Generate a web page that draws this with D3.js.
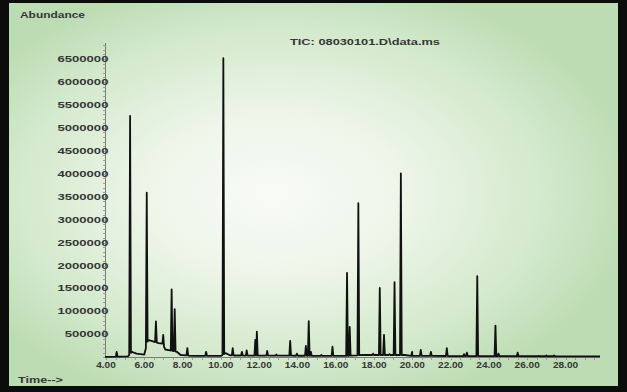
<!DOCTYPE html>
<html>
<head>
<meta charset="utf-8">
<script src="https://cdn.jsdelivr.net/npm/d3@7"></script>
<style>
  html, body { margin: 0; padding: 0; background: #fff; }
  svg { display: block; }
  text { font-family: "Liberation Sans", Arial, sans-serif; font-weight: bold; fill: #363636; }
</style>
</head>
<body>
<svg id="chart" width="627" height="392"></svg>
<script>
// Retention times (min) of the detected peaks and their apex abundances
const peakTimes = [4.56, 5.26, 6.13, 6.61, 6.99, 7.43, 7.59, 8.25, 9.23, 10.13,
  10.62, 11.10, 11.35, 11.80, 11.88, 12.42, 12.90, 13.62, 13.97, 14.44,
  14.59, 14.70, 15.25, 15.83, 16.59, 16.73, 17.18, 17.95, 18.30, 18.52,
  18.80, 19.07, 19.40, 19.99, 20.44, 20.97, 21.80, 22.70, 22.85, 23.39,
  24.34, 24.50, 25.50, 26.60, 27.00, 27.40, 28.20];
const peakHeights = [120000, 5260000, 3590000, 780000, 490000, 1480000, 1050000, 200000, 120000, 6520000,
  200000, 120000, 150000, 380000, 560000, 140000, 60000, 360000, 80000, 250000,
  790000, 120000, 50000, 230000, 1840000, 660000, 3360000, 80000, 1510000, 490000,
  70000, 1640000, 4010000, 120000, 160000, 120000, 200000, 70000, 100000, 1770000,
  690000, 80000, 100000, 30000, 40000, 40000, 20000];

// Underlying baseline of the trace (time, abundance)
const baseTimes  = [3.95, 5.15, 5.35, 5.60, 6.00, 6.20, 6.50, 6.75, 6.95, 7.10, 7.35, 7.70, 7.90, 8.50, 10.00, 10.25, 10.50, 16.50, 17.40, 19.60, 20.00, 29.80];
const baseLevels = [10000, 20000, 120000, 80000, 60000, 380000, 340000, 310000, 300000, 170000, 150000, 120000, 50000, 30000, 30000, 90000, 40000, 30000, 50000, 50000, 30000, 20000];

// Axis ticks
const yTicks = [500000, 1000000, 1500000, 2000000, 2500000, 3000000, 3500000, 4000000, 4500000, 5000000, 5500000, 6000000, 6500000];
const xTicks = [4, 6, 8, 10, 12, 14, 16, 18, 20, 22, 24, 26, 28];
const xTickLabels = ["4.00", "6.00", "8.00", "10.00", "12.00", "14.00", "16.00", "18.00", "20.00", "22.00", "24.00", "26.00", "28.00"];

const svg = d3.select("#chart");
const W = 627, H = 392;

// Panel background: black frame around a soft green radial wash
const defs = svg.append("defs");
const grad = defs.append("radialGradient").attr("id", "wash")
  .attr("cx", "0.45").attr("cy", "0.5").attr("r", "0.58").attr("fx", "0.43").attr("fy", "0.5");
grad.append("stop").attr("offset", "0").attr("stop-color", "#f8fbf5");
grad.append("stop").attr("offset", "0.35").attr("stop-color", "#eef6ea");
grad.append("stop").attr("offset", "0.75").attr("stop-color", "#d3e9cc");
grad.append("stop").attr("offset", "1").attr("stop-color", "#bcdcb3");

svg.append("rect").attr("x", 0).attr("y", 0).attr("width", W).attr("height", H).attr("fill", "#0c0c0c");
svg.append("rect").attr("x", 9).attr("y", 3).attr("width", 609).attr("height", 383).attr("fill", "url(#wash)");

// Scales
const x = d3.scaleLinear().domain([3.95, 29.8]).range([105, 600]);
const y = d3.scaleLinear().domain([0, 6850000]).range([357.3, 43]);

// Y axis line with minor ticks every 100k
const yAxisG = svg.append("g");
yAxisG.append("line").attr("x1", 105.5).attr("x2", 105.5).attr("y1", y(6850000)).attr("y2", y(0))
  .attr("stroke", "#7a7a7a").attr("stroke-width", 1);
yAxisG.selectAll("line.minor").data(d3.range(0, 6850001, 100000)).join("line")
  .attr("class", "minor")
  .attr("x1", 103).attr("x2", 106)
  .attr("y1", d => Math.round(y(d)) + 0.5).attr("y2", d => Math.round(y(d)) + 0.5)
  .attr("stroke", "#8a8a8a").attr("stroke-width", 0.8);
yAxisG.selectAll("text").data(yTicks).join("text")
  .attr("x", 108.5).attr("y", d => y(d)).attr("dy", "0.35em")
  .attr("text-anchor", "end").attr("font-size", 8.6)
  .attr("textLength", d => String(d).length * 7.3).attr("lengthAdjust", "spacingAndGlyphs")
  .text(d => d);

// X axis line, minor ticks every 0.5 min, labels every 2 min
const xAxisG = svg.append("g");
xAxisG.append("line").attr("x1", 105).attr("x2", 600).attr("y1", 357.5).attr("y2", 357.5)
  .attr("stroke", "#7a7a7a").attr("stroke-width", 1);
xAxisG.selectAll("line.minor").data(d3.range(4, 29.76, 0.5)).join("line")
  .attr("class", "minor")
  .attr("x1", d => Math.round(x(d)) + 0.5).attr("x2", d => Math.round(x(d)) + 0.5)
  .attr("y1", 357).attr("y2", 360)
  .attr("stroke", "#8a8a8a").attr("stroke-width", 0.8);
xAxisG.selectAll("text").data(xTicks).join("text")
  .attr("x", d => x(d)).attr("y", 367.8)
  .attr("text-anchor", "middle").attr("font-size", 8.6)
  .attr("textLength", (d, i) => xTickLabels[i].replace(".", "").length * 5.6 + 2.8)
  .attr("lengthAdjust", "spacingAndGlyphs")
  .text((d, i) => xTickLabels[i]);

// Chromatogram trace: baseline points plus a narrow spike for every peak
const baseAt = d3.scaleLinear().domain(baseTimes).range(baseLevels);
const halfWidth = 0.045;
const pts = baseTimes.map((t, i) => [t, baseLevels[i]]);
peakTimes.forEach((t, i) => {
  pts.push([t - halfWidth, baseAt(t - halfWidth)]);
  pts.push([t, peakHeights[i]]);
  pts.push([t + halfWidth, baseAt(t + halfWidth)]);
});
pts.sort((a, b) => a[0] - b[0]);

svg.append("path")
  .datum(pts)
  .attr("fill", "none")
  .attr("stroke", "#111")
  .attr("stroke-width", 1.8)
  .attr("stroke-linejoin", "round")
  .attr("d", d3.line().x(d => x(d[0])).y(d => y(d[1])));

// Titles
svg.append("text").attr("x", 20).attr("y", 17.5).attr("font-size", 8.6)
  .attr("textLength", 65).attr("lengthAdjust", "spacingAndGlyphs").text("Abundance");
svg.append("text").attr("x", 290).attr("y", 44.5).attr("font-size", 8.6)
  .attr("textLength", 150).attr("lengthAdjust", "spacingAndGlyphs").text("TIC: 08030101.D\\data.ms");
svg.append("text").attr("x", 18).attr("y", 383).attr("font-size", 8.6)
  .attr("textLength", 45).attr("lengthAdjust", "spacingAndGlyphs").text("Time-->");
</script>
</body>
</html>
